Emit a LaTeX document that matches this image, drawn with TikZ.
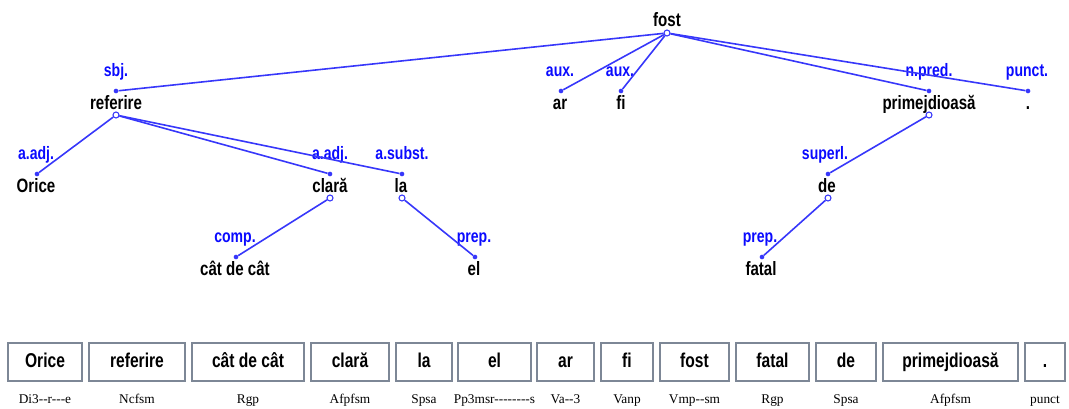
\documentclass[tikz,border=0pt]{standalone}
\usepackage{fontspec}
\newfontfamily\treefont{Liberation Sans}[FakeStretch=0.78]
\newfontfamily\msdfont{Liberation Serif}[Ligatures=TeXOff]
\definecolor{arcblue}{RGB}{55,55,250}
\definecolor{relblue}{RGB}{10,10,255}
\definecolor{boxgray}{RGB}{125,135,150}
\tikzset{
  word/.style={font=\treefont\bfseries\fontsize{14.5}{16}\selectfont, anchor=base, inner sep=0pt},
  rel/.style={font=\treefont\bfseries\fontsize{13.5}{15}\selectfont, text=relblue, anchor=base, inner sep=0pt},
  dep/.style={circle, fill=arcblue, inner sep=0pt, minimum size=3.5pt},
  head/.style={circle, draw=arcblue, fill=white, line width=0.8pt, inner sep=0pt, minimum size=4.5pt},
  link/.style={draw=arcblue, line width=1.2pt},
  tok/.style={draw=boxgray, line width=0.9pt, fill=white, inner sep=0pt, minimum height=28.5pt,
    text height=11pt, text depth=3pt, font=\treefont\bfseries\fontsize{15}{17}\selectfont},
  msd/.style={font=\msdfont\fontsize{10}{12}\selectfont, inner sep=0pt, anchor=base}
}
\begin{document}
\begin{tikzpicture}[x=0.75pt,y=0.75pt,yscale=-1,xscale=1]
\useasboundingbox (0,0) rectangle (1069,408);

% Text Node
\node [word] (fost) at (667,26) {fost};
\node [head] (fost-out) at (667,33) {};

%level 1
\node [dep] (referire-in) at (116,91) {};
\node [rel] at (116,76) {sbj.};
\node [word] (referire) at (116,109.5) {referire};
\node [head] (referire-out) at (116,115) {};

\node [dep] (ar-in) at (561,91) {};
\node [rel] at (560,76) {aux.};
\node [word] (ar) at (560,109.5) {ar};

\node [dep] (fi-in) at (621,91) {};
\node [rel] at (620,76) {aux.};
\node [word] (fi) at (621,109.5) {fi};

\node [dep] (primejdioasa-in) at (929,91) {};
\node [rel] at (929,76) {n.pred.};
\node [word] (primejdioasa) at (929,109.5) {primejdioasă};
\node [head] (primejdioasa-out) at (929,115) {};

\node [dep] (punct-in) at (1028,91) {};
\node [rel] at (1027,76) {punct.};
\node [word] (punct) at (1028,109.5) {.};

%level 2
\node [dep] (orice-in) at (37,174) {};
\node [rel] at (36,159) {a.adj.};
\node [word] (orice) at (36,192.5) {Orice};

\node [dep] (clara-in) at (330,174) {};
\node [rel] at (330,159) {a.adj.};
\node [word] (clara) at (330,192.5) {clară};
\node [head] (clara-out) at (330,198) {};

\node [dep] (la-in) at (402,174) {};
\node [rel] at (402,159) {a.subst.};
\node [word] (la) at (401,192.5) {la};
\node [head] (la-out) at (402,198) {};

\node [dep] (de-in) at (828,174) {};
\node [rel] at (825,159) {superl.};
\node [word] (de) at (827,192.5) {de};
\node [head] (de-out) at (828,198) {};

%level 3
\node [dep] (catdecat-in) at (236,257) {};
\node [rel] at (235,242) {comp.};
\node [word] (catdecat) at (235,275.5) {cât de cât};

\node [dep] (el-in) at (475,257) {};
\node [rel] at (474,242) {prep.};
\node [word] (el) at (474,275.5) {el};

\node [dep] (fatal-in) at (762,257) {};
\node [rel] at (760,242) {prep.};
\node [word] (fatal) at (761,275.5) {fatal};

%Straight Lines
\draw [link] (fost-out) -- (referire-in);
\draw [link] (fost-out) -- (ar-in);
\draw [link] (fost-out) -- (fi-in);
\draw [link] (fost-out) -- (primejdioasa-in);
\draw [link] (fost-out) -- (punct-in);
\draw [link] (referire-out) -- (orice-in);
\draw [link] (referire-out) -- (clara-in);
\draw [link] (referire-out) -- (la-in);
\draw [link] (clara-out) -- (catdecat-in);
\draw [link] (la-out) -- (el-in);
\draw [link] (primejdioasa-out) -- (de-in);
\draw [link] (de-out) -- (fatal-in);

%token boxes and tags
\foreach \x/\w/\t/\m [count=\i] in {45/74/Orice/Di3--r---e, 137/96/referire/Ncfsm,
    248/112/cât de cât/Rgp, 350/78/clară/Afpfsm, 424/56/la/Spsa, 494.5/73/el/Pp3msr--------s,
    565.5/57/ar/Va--3, 627/52/fi/Vanp, 694.5/69/fost/Vmp--sm, 772.5/73/fatal/Rgp,
    846/60/de/Spsa, 950.5/135/primejdioasă/Afpfsm, 1045/40/./punct}{
  \node [tok, minimum width=\w*0.75pt] (tok\i) at (\x,362) {\t};
  \node [msd] (msd\i) at (\x,403) {\m};
}

\end{tikzpicture}
\end{document}
